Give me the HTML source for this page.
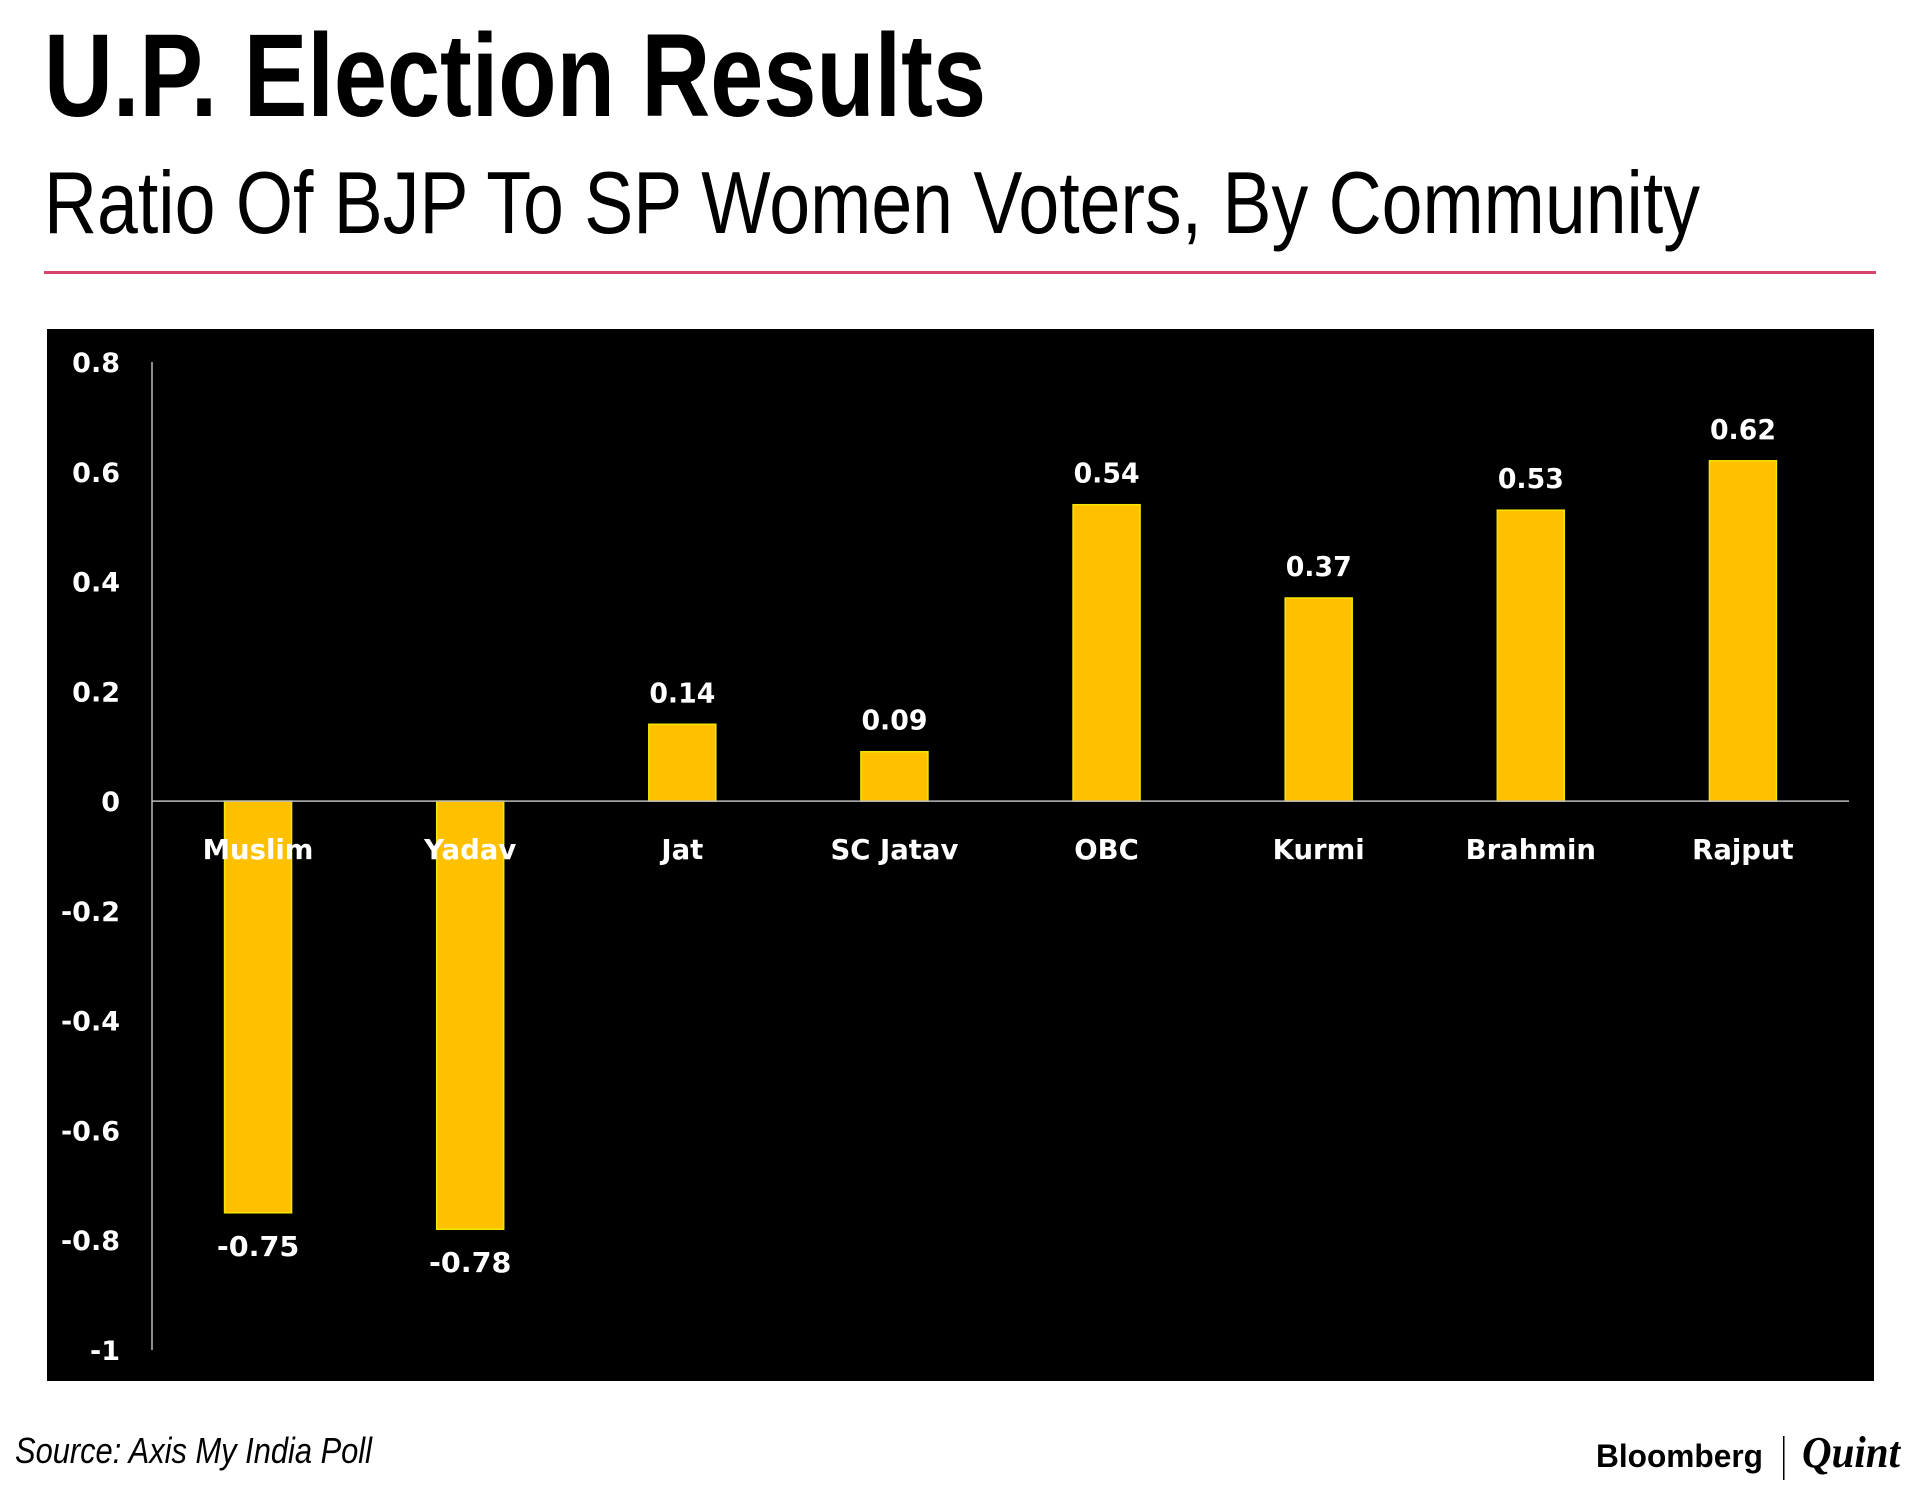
<!DOCTYPE html>
<html><head><meta charset="utf-8"><style>html,body{margin:0;padding:0;background:#fff}svg{display:block}</style></head>
<body>
<svg id="chart" width="1920" height="1496" viewBox="0 0 1920 1496" xmlns="http://www.w3.org/2000/svg">
<text x="44" y="116" font-family="Liberation Sans, sans-serif" font-weight="bold" font-size="118" textLength="942" lengthAdjust="spacingAndGlyphs">U.P. Election Results</text>
<text x="44" y="233" font-family="Liberation Sans, sans-serif" font-size="88" textLength="1656" lengthAdjust="spacingAndGlyphs">Ratio Of BJP To SP Women Voters, By Community</text>
<rect x="44" y="271" width="1832" height="3" fill="#d8436c"/>
<rect x="47" y="329" width="1827" height="1052" fill="#000"/>
<g id="plot"></g>
<text x="15" y="1463" font-family="Liberation Sans, sans-serif" font-style="italic" font-size="36" textLength="357" lengthAdjust="spacingAndGlyphs">Source: Axis My India Poll</text>
<text x="1596" y="1467" font-family="Liberation Sans, sans-serif" font-weight="bold" font-size="32" textLength="167" lengthAdjust="spacingAndGlyphs">Bloomberg</text>
<rect x="1783" y="1436" width="1.5" height="44" fill="#000"/>
<text x="1802" y="1467" font-family="Liberation Serif, serif" font-style="italic" font-weight="bold" font-size="44" textLength="98" lengthAdjust="spacingAndGlyphs">Quint</text>
</svg>
<script>
const categories = ["Muslim","Yadav","Jat","SC Jatav","OBC","Kurmi","Brahmin","Rajput"];
const values = [-0.75,-0.78,0.14,0.09,0.54,0.37,0.53,0.62];
const valueLabels = ["-0.75","-0.78","0.14","0.09","0.54","0.37","0.53","0.62"];
const yTicks = [0.8,0.6,0.4,0.2,0,-0.2,-0.4,-0.6,-0.8,-1];
const yTickLabels = ["0.8","0.6","0.4","0.2","0","-0.2","-0.4","-0.6","-0.8","-1"];

const NS = "http://www.w3.org/2000/svg";
const g = document.getElementById('plot');
const X0 = 152, X1 = 1849, Y_TOP = 362, Y_BOT = 1350, VMAX = 0.8, VMIN = -1;
const y = v => Y_TOP + (VMAX - v) / (VMAX - VMIN) * (Y_BOT - Y_TOP);
const band = (X1 - X0) / categories.length;
const xc = i => X0 + band * (i + 0.5);
const BW = 67;
function mk(tag, attrs){const e=document.createElementNS(NS,tag);for(const k in attrs)e.setAttribute(k,attrs[k]);g.appendChild(e);return e;}
const FONT = "DejaVu Sans, Liberation Sans, sans-serif";

yTicks.forEach((t,i)=>{
  const e = mk('text',{x:120,y:y(t)+10,'text-anchor':'end',fill:'#fff','font-family':FONT,'font-weight':'bold','font-size':27});
  e.textContent = yTickLabels[i];
  
  
});
const ax = mk('line',{x1:X0,y1:Y_TOP,x2:X0,y2:Y_BOT,stroke:'#bbb','stroke-width':1.5});



values.forEach((v,i)=>{
  const top = Math.min(y(v), y(0)), h = Math.abs(y(v)-y(0));
  const r = mk('rect',{x:xc(i)-BW/2,y:top,width:BW,height:h,fill:'#ffc000',stroke:'#f5e600','stroke-width':1.5});
  
  
  const ly = v >= 0 ? y(v) - 22 : y(v) + 43;
  const t = mk('text',{x:xc(i),y:ly,'text-anchor':'middle',fill:'#fff','font-family':FONT,'font-weight':'bold','font-size':28,textLength:String(valueLabels[i].length*16.5),lengthAdjust:'spacingAndGlyphs'});
  t.textContent = valueLabels[i];
  
  
});

const zl = mk('line',{x1:X0,y1:y(0),x2:X1,y2:y(0),stroke:'#bbb','stroke-width':1.5});



categories.forEach((c,i)=>{
  const t = mk('text',{x:xc(i),y:y(0)+58,'text-anchor':'middle',fill:'#fff','font-family':FONT,'font-weight':'bold','font-size':27.5});
  t.textContent = c;
  
  
});
</script>
</body></html>
